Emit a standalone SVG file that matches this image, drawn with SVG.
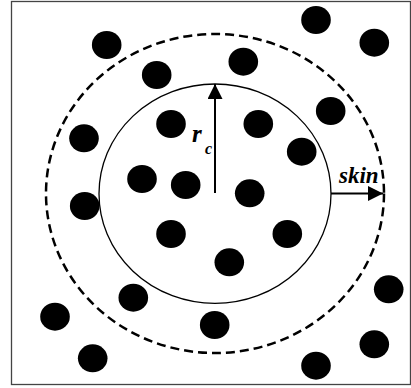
<svg xmlns="http://www.w3.org/2000/svg" width="411" height="388" viewBox="0 0 411 388">
<style>
.dot{fill:#000}
.lbl{font-family:"Liberation Serif","Times New Roman",serif;font-weight:bold;font-style:italic;fill:#000}
</style>
<defs>
<marker id="ah" markerWidth="15" markerHeight="15" viewBox="0 0 15 15" refX="15" refY="7.5" orient="auto" markerUnits="userSpaceOnUse">
<path d="M0,0 L15,7.5 L0,15 Z" fill="#000"/>
</marker>
</defs>
<rect width="411" height="388" fill="#fff"/>
<rect x="11.5" y="1.5" width="399" height="383" fill="none" stroke="#444" stroke-width="1.3"/>
<g id="skin-region"><ellipse cx="215" cy="193.5" rx="169" ry="159.5" fill="none" stroke="#000" stroke-width="2.5" stroke-dasharray="9,5"/></g>
<g id="cutoff-region"><ellipse cx="215" cy="193.7" rx="116" ry="109.7" fill="none" stroke="#000" stroke-width="1.3"/></g>
<g id="particles">
<ellipse class="dot" cx="106.7" cy="45" rx="14.8" ry="14"/>
<ellipse class="dot" cx="316" cy="20" rx="14.8" ry="14"/>
<ellipse class="dot" cx="374.3" cy="42.7" rx="14.8" ry="14"/>
<ellipse class="dot" cx="156.7" cy="75" rx="14.8" ry="14"/>
<ellipse class="dot" cx="243.3" cy="61.7" rx="14.8" ry="14"/>
<ellipse class="dot" cx="330.7" cy="111" rx="14.8" ry="14"/>
<ellipse class="dot" cx="84" cy="138.3" rx="14.8" ry="14"/>
<ellipse class="dot" cx="171" cy="124" rx="14.8" ry="14"/>
<ellipse class="dot" cx="258.3" cy="124" rx="14.8" ry="14"/>
<ellipse class="dot" cx="301.7" cy="151.7" rx="14.8" ry="14"/>
<ellipse class="dot" cx="142" cy="179" rx="14.8" ry="14"/>
<ellipse class="dot" cx="185.7" cy="185" rx="14.8" ry="14"/>
<ellipse class="dot" cx="249.7" cy="193.3" rx="14.8" ry="14"/>
<ellipse class="dot" cx="84.7" cy="206" rx="14.8" ry="14"/>
<ellipse class="dot" cx="171" cy="234" rx="14.8" ry="14"/>
<ellipse class="dot" cx="287.3" cy="234" rx="14.8" ry="14"/>
<ellipse class="dot" cx="229.3" cy="262.3" rx="14.8" ry="14"/>
<ellipse class="dot" cx="133.3" cy="297.7" rx="14.8" ry="14"/>
<ellipse class="dot" cx="388.7" cy="289.3" rx="14.8" ry="14"/>
<ellipse class="dot" cx="55" cy="316.7" rx="14.8" ry="14"/>
<ellipse class="dot" cx="214.7" cy="325" rx="14.8" ry="14"/>
<ellipse class="dot" cx="374.3" cy="344.3" rx="14.8" ry="14"/>
<ellipse class="dot" cx="92.7" cy="358.3" rx="14.8" ry="14"/>
<ellipse class="dot" cx="316" cy="365.7" rx="14.8" ry="14"/>
</g>
<g id="connectors">
<line x1="215" y1="193" x2="215" y2="84" stroke="#000" stroke-width="2" marker-end="url(#ah)"/>
<line x1="331" y1="193.5" x2="383" y2="193.5" stroke="#000" stroke-width="2" marker-end="url(#ah)"/>
</g>
<g id="labels">
<text class="lbl" x="192" y="142.3" font-size="25">r</text>
<text class="lbl" x="205" y="154.3" font-size="16">c</text>
<text class="lbl" x="339" y="182.7" font-size="23">skin</text>
</g>
</svg>
